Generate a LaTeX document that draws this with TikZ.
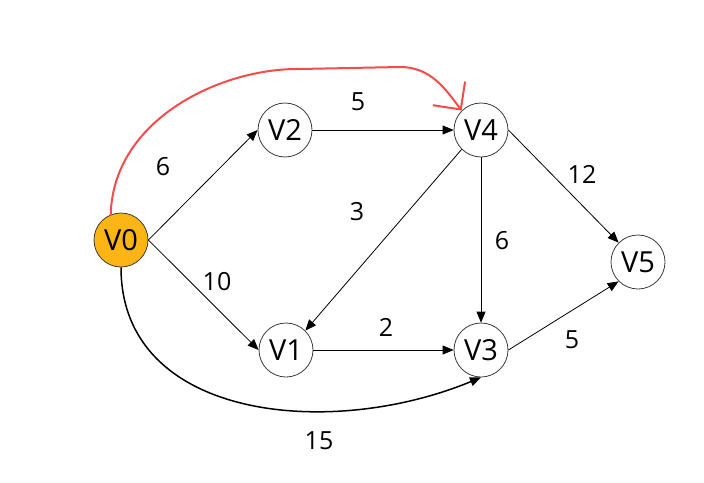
\documentclass[tikz,border=0pt]{standalone}
\usepackage{fontspec}
\setmainfont{Open Sans}
\usepackage{tikz}
\usetikzlibrary{arrows.meta}

\definecolor{startorange}{RGB}{253,181,21}
\definecolor{pathred}{RGB}{245,75,75}
\definecolor{ringgray}{RGB}{60,60,60}

\begin{document}
\begin{tikzpicture}[
  x=1pt, y=-1pt,
  vertex/.style={circle, draw=ringgray, line width=0.8pt, fill=white, minimum size=54pt, inner sep=0pt, font=\fontsize{29}{32}\selectfont},
  weight/.style={font=\fontsize{25}{28}\selectfont, inner sep=0pt},
  edge/.style={draw, line width=0.8pt, -{Triangle[length=11pt,width=9pt]}},
  route/.style={draw=pathred, line width=2pt, line cap=round, -{Straight Barb[length=20pt,width=40pt,line width=2pt]}}
]
\useasboundingbox (0,0) rectangle (704,482);

% vertices
\node[vertex, fill=startorange] (V0) at (121,240) {V0};
\node[vertex] (V2) at (285,130) {V2};
\node[vertex] (V4) at (481,130) {V4};
\node[vertex] (V1) at (286,350) {V1};
\node[vertex] (V3) at (481,350) {V3};
\node[vertex] (V5) at (638,262) {V5};

% edges
\draw[edge] (V0.east) -- (V2.west);
\draw[edge] (V0.east) -- (V1.west);
\draw[edge] (V2.east) -- (V4.west);
\draw[edge] (V4.south west) -- (V1.north east);
\draw[edge] (V4.south) -- (V3.north);
\draw[edge] (V4.east) -- (V5.north west);
\draw[edge] (V1.east) -- (V3.west);
\draw[edge] (V3.east) -- (V5.south west);
\draw[edge, line width=1.5pt] (V0.south) .. controls (121,420) and (330,440) .. (V3.south);

% weights
\node[weight] (w02) at (163,167) {6};
\node[weight] (w24) at (358,102) {5};
\node[weight] (w41) at (357,212) {3};
\node[weight] (w43) at (502,241) {6};
\node[weight] (w45) at (582,174) {12};
\node[weight] (w01) at (217,282) {10};
\node[weight] (w13) at (386,327) {2};
\node[weight] (w35) at (572,340) {5};
\node[weight] (w03) at (319,441) {15};

% shortest route V0 -> V4
\draw[route] (V0.112) .. controls (113,120) and (220,68) .. (300,69)
  -- (400,67) .. controls (430,67) and (445,88) .. (V4.135);
\end{tikzpicture}
\end{document}
